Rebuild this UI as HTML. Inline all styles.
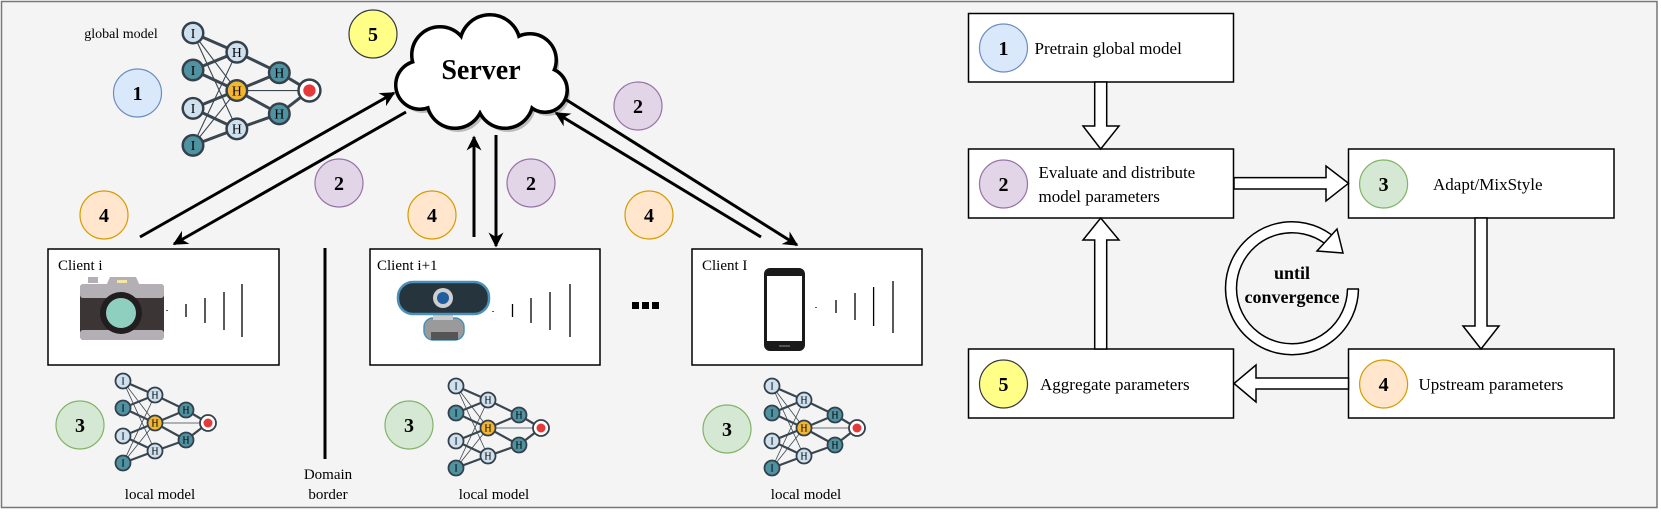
<!DOCTYPE html>
<html><head><meta charset="utf-8"><style>
html,body{margin:0;padding:0;background:#fff}
svg{display:block}
text{font-family:"Liberation Serif",serif;fill:#000}
.n{font-weight:bold;font-size:20px;text-anchor:middle}
.t{font-size:17px}
</style></head><body>
<svg width="1661" height="514" viewBox="0 0 1661 514" xmlns="http://www.w3.org/2000/svg">
<defs>
<marker id="ah" viewBox="0 0 10 10" refX="9" refY="5" markerWidth="5" markerHeight="5" orient="auto-start-reverse" markerUnits="strokeWidth">
<path d="M0,0 L10,5 L0,10 L3,5 z" fill="#000"/></marker>
<g id="net">
<g stroke="#3a4650" stroke-width="0.8">
<line x1="0" y1="0" x2="32" y2="42"/><line x1="0" y1="0" x2="32" y2="70"/>
<line x1="0" y1="82" x2="32" y2="42"/><line x1="0" y1="82" x2="32" y2="14"/>
<line x1="32" y1="42" x2="85" y2="42"/></g>
<g stroke="#3a4650" stroke-width="2.2">
<line x1="0" y1="0" x2="32" y2="14"/><line x1="0" y1="27" x2="32" y2="14"/><line x1="0" y1="27" x2="32" y2="42"/>
<line x1="0" y1="55" x2="32" y2="42"/><line x1="0" y1="55" x2="32" y2="70"/><line x1="0" y1="82" x2="32" y2="70"/>
<line x1="32" y1="14" x2="63" y2="29"/><line x1="32" y1="42" x2="63" y2="29"/><line x1="32" y1="42" x2="63" y2="59"/>
<line x1="32" y1="70" x2="63" y2="59"/><line x1="63" y1="29" x2="85" y2="42"/><line x1="63" y1="59" x2="85" y2="42"/></g>
<g stroke="#34404a" stroke-width="1.8">
<circle cx="0" cy="0" r="7.5" fill="#cfe1ee"/><circle cx="0" cy="27" r="7.5" fill="#4f93a3"/>
<circle cx="0" cy="55" r="7.5" fill="#cfe1ee"/><circle cx="0" cy="82" r="7.5" fill="#4f93a3"/>
<circle cx="32" cy="14" r="7.5" fill="#cfe1ee"/><circle cx="32" cy="42" r="7.5" fill="#f3b632"/>
<circle cx="32" cy="70" r="7.5" fill="#cfe1ee"/>
<circle cx="63" cy="29" r="7.5" fill="#4f93a3"/><circle cx="63" cy="59" r="7.5" fill="#4f93a3"/>
<circle cx="85" cy="42" r="8" fill="#fff"/></g>
<circle cx="85" cy="42" r="4.5" fill="#e53a3a"/>
<g font-family="Liberation Mono, monospace" font-size="10" text-anchor="middle" fill="#2a3540">
<text x="0" y="3.5">I</text><text x="0" y="30.5">I</text><text x="0" y="58.5">I</text><text x="0" y="85.5">I</text>
<text x="32" y="17.5">H</text><text x="32" y="45.5">H</text><text x="32" y="73.5">H</text>
<text x="63" y="32.5">H</text><text x="63" y="62.5">H</text></g>
</g>
</defs>

<rect x="1.5" y="1.5" width="1655.5" height="506" fill="#f4f4f4" stroke="#777" stroke-width="1.5"/>

<text x="121" y="38" font-size="14" text-anchor="middle">global model</text>
<circle cx="137.5" cy="93" r="24" fill="#dae8fc" stroke="#6c8ebf" stroke-width="1.2"/><text class="n" x="137.5" y="100">1</text>
<use href="#net" transform="translate(193,33) scale(1.37)"/>
<circle cx="373" cy="34" r="24" fill="#ffff88" stroke="#36393d" stroke-width="1.2"/><text class="n" x="373" y="41">5</text>

<g transform="translate(3,4)" fill="#bbb">
<circle cx="440" cy="55" r="28"/><circle cx="490" cy="45" r="30"/><circle cx="530" cy="60" r="26"/><circle cx="545" cy="90" r="22"/><circle cx="505" cy="100" r="28"/><circle cx="455" cy="100" r="28"/><circle cx="420" cy="85" r="24"/></g>
<g stroke="#000" stroke-width="4" fill="#fff">
<circle cx="440" cy="55" r="28"/><circle cx="490" cy="45" r="30"/><circle cx="530" cy="60" r="26"/><circle cx="545" cy="90" r="22"/><circle cx="505" cy="100" r="28"/><circle cx="455" cy="100" r="28"/><circle cx="420" cy="85" r="24"/></g>
<g fill="#fff">
<circle cx="440" cy="55" r="26.5"/><circle cx="490" cy="45" r="28.5"/><circle cx="530" cy="60" r="24.5"/><circle cx="545" cy="90" r="20.5"/><circle cx="505" cy="100" r="26.5"/><circle cx="455" cy="100" r="26.5"/><circle cx="420" cy="85" r="22.5"/><circle cx="480" cy="75" r="35"/></g>
<text x="481" y="79" font-size="28" font-weight="bold" text-anchor="middle">Server</text>

<g stroke="#000" stroke-width="3" marker-end="url(#ah)">
<line x1="140" y1="237" x2="394" y2="93"/>
<line x1="406" y1="112" x2="174" y2="244"/>
<line x1="474" y1="237" x2="474" y2="137"/>
<line x1="496" y1="135" x2="496" y2="246"/>
<line x1="565" y1="99" x2="797" y2="245"/>
<line x1="761" y1="237" x2="556" y2="113"/>
</g>
<circle cx="339" cy="183" r="24" fill="#e1d5e7" stroke="#9673a6" stroke-width="1.2"/><text class="n" x="339" y="190">2</text>
<circle cx="531" cy="183" r="24" fill="#e1d5e7" stroke="#9673a6" stroke-width="1.2"/><text class="n" x="531" y="190">2</text>
<circle cx="638" cy="106" r="24" fill="#e1d5e7" stroke="#9673a6" stroke-width="1.2"/><text class="n" x="638" y="113">2</text>
<circle cx="104" cy="215" r="24" fill="#ffe6cc" stroke="#d79b00" stroke-width="1.2"/><text class="n" x="104" y="222">4</text>
<circle cx="432" cy="215" r="24" fill="#ffe6cc" stroke="#d79b00" stroke-width="1.2"/><text class="n" x="432" y="222">4</text>
<circle cx="649" cy="215" r="24" fill="#ffe6cc" stroke="#d79b00" stroke-width="1.2"/><text class="n" x="649" y="222">4</text>

<g fill="#fff" stroke="#000" stroke-width="1.5">
<rect x="48" y="249" width="231" height="116"/>
<rect x="370" y="249" width="230" height="116"/>
<rect x="692" y="249" width="230" height="116"/>
</g>
<text x="58" y="270" font-size="15">Client i</text>
<text x="377" y="270" font-size="15">Client i+1</text>
<text x="702" y="270" font-size="15">Client I</text>

<rect x="88" y="277" width="10" height="6" fill="#b3afb5"/>
<path d="M106,286 L110,277 L136,277 L140,286 Z" fill="#b3afb5"/>
<rect x="80" y="284" width="84" height="56" rx="4" fill="#3b3536"/>
<rect x="80" y="284" width="84" height="14" rx="3" fill="#b3afb5"/>
<rect x="80" y="330" width="84" height="10" rx="3" fill="#b3afb5"/>
<rect x="117" y="280" width="10" height="3" fill="#f2e6a0"/>
<circle cx="121" cy="313" r="21" fill="#221d1e"/>
<circle cx="121" cy="313" r="15" fill="#8fcfbf"/>
<rect x="424" y="318" width="40" height="22" rx="9" fill="#9a9a9a" stroke="#4a90b8" stroke-width="1.5"/>
<rect x="431" y="332" width="27" height="8" fill="#555"/>
<rect x="433" y="311" width="20" height="9" fill="#ccc"/>
<rect x="398" y="282" width="91" height="32" rx="15" fill="#25343d" stroke="#4a90b8" stroke-width="2.5"/>
<circle cx="443" cy="298" r="10" fill="#cfcfcf"/><circle cx="443" cy="298" r="6" fill="#1f5fa0"/>
<rect x="764" y="268" width="41" height="83" rx="6" fill="#1a1a1a"/>
<rect x="767" y="276" width="35" height="65" fill="#fff"/>
<rect x="779" y="345" width="11" height="2" fill="#555"/>
<g stroke="#000" stroke-width="1.3">
<line x1="167" y1="310" x2="167" y2="311"/>
<line x1="186" y1="304" x2="186" y2="317"/><line x1="205" y1="298" x2="205" y2="323"/><line x1="224" y1="292" x2="224" y2="330"/><line x1="242" y1="284" x2="242" y2="337"/>
<line x1="493" y1="311" x2="493" y2="312"/>
<line x1="512.5" y1="304" x2="512.5" y2="317"/><line x1="531" y1="298" x2="531" y2="323"/><line x1="550" y1="292" x2="550" y2="330"/><line x1="570" y1="284" x2="570" y2="337"/>
<line x1="816" y1="307" x2="816" y2="308"/>
<line x1="836" y1="300" x2="836" y2="313"/><line x1="855" y1="293" x2="855" y2="320"/><line x1="873.6" y1="287" x2="873.6" y2="326"/><line x1="893" y1="281" x2="893" y2="333"/>
</g>
<g fill="#000"><rect x="632" y="302" width="7" height="7"/><rect x="642" y="302" width="7" height="7"/><rect x="652" y="302" width="7" height="7"/></g>

<line x1="325" y1="248" x2="325" y2="459" stroke="#000" stroke-width="3"/>
<text x="328" y="479" font-size="15" text-anchor="middle">Domain</text>
<text x="328" y="499" font-size="15" text-anchor="middle">border</text>

<circle cx="80" cy="425" r="24" fill="#d5e8d4" stroke="#82b366" stroke-width="1.2"/><text class="n" x="80" y="432">3</text>
<use href="#net" transform="translate(123,381)"/>
<text x="160" y="499" font-size="15" text-anchor="middle">local model</text>
<circle cx="409" cy="425" r="24" fill="#d5e8d4" stroke="#82b366" stroke-width="1.2"/><text class="n" x="409" y="432">3</text>
<use href="#net" transform="translate(456,386)"/>
<text x="494" y="499" font-size="15" text-anchor="middle">local model</text>
<circle cx="727" cy="429" r="24" fill="#d5e8d4" stroke="#82b366" stroke-width="1.2"/><text class="n" x="727" y="436">3</text>
<use href="#net" transform="translate(772,386)"/>
<text x="806" y="499" font-size="15" text-anchor="middle">local model</text>

<g fill="#fff" stroke="#000" stroke-width="1.5">
<rect x="968.5" y="13.5" width="265" height="68.5"/>
<rect x="968.5" y="149" width="265" height="69"/>
<rect x="1348.5" y="149" width="265.5" height="69"/>
<rect x="968.5" y="349" width="265" height="69"/>
<rect x="1348.5" y="349" width="265.5" height="69"/>
<path d="M1094.7,82 L1106.7,82 L1106.7,126 L1119,126 L1100.7,149 L1083,126 L1094.7,126 Z"/>
<path d="M1234,177.6 L1326,177.6 L1326,166 L1348.5,183.3 L1326,201 L1326,189 L1234,189 Z"/>
<path d="M1475,218 L1487,218 L1487,326 L1499,326 L1481,349 L1463,326 L1475,326 Z"/>
<path d="M1348.5,378 L1256,378 L1256,365 L1234,383.5 L1256,402 L1256,389 L1348.5,389 Z"/>
<path d="M1094.7,349 L1106.7,349 L1106.7,240 L1119,240 L1100.7,218 L1083,240 L1094.7,240 Z"/>
</g>
<circle cx="1003.5" cy="48" r="24" fill="#dae8fc" stroke="#6c8ebf" stroke-width="1.2"/><text class="n" x="1003.5" y="55">1</text>
<text class="t" x="1034.5" y="54">Pretrain global model</text>
<circle cx="1003.5" cy="184" r="24" fill="#e1d5e7" stroke="#9673a6" stroke-width="1.2"/><text class="n" x="1003.5" y="191">2</text>
<text class="t" x="1038.5" y="178">Evaluate and distribute</text>
<text class="t" x="1038.5" y="202">model parameters</text>
<circle cx="1383.6" cy="184" r="24" fill="#d5e8d4" stroke="#82b366" stroke-width="1.2"/><text class="n" x="1383.6" y="191">3</text>
<text class="t" x="1433" y="190">Adapt/MixStyle</text>
<circle cx="1003.5" cy="384" r="24" fill="#ffff88" stroke="#36393d" stroke-width="1.2"/><text class="n" x="1003.5" y="391">5</text>
<text class="t" x="1040" y="390">Aggregate parameters</text>
<circle cx="1383.6" cy="384" r="24" fill="#ffe6cc" stroke="#d79b00" stroke-width="1.2"/><text class="n" x="1383.6" y="391">4</text>
<text class="t" x="1418.5" y="390">Upstream parameters</text>

<path d="M1353,289 A61,61 0 1 1 1328,239" fill="none" stroke="#000" stroke-width="12.5"/>
<path d="M1353,289 A61,61 0 1 1 1328,239" fill="none" stroke="#fff" stroke-width="9.5"/>
<line x1="1347" y1="289" x2="1359" y2="289" stroke="#000" stroke-width="1.5"/>
<path d="M1317,251 L1337,229 L1343,253 Z" fill="#fff" stroke="#000" stroke-width="1.5"/>
<text x="1292" y="279" font-size="18" font-weight="bold" text-anchor="middle">until</text>
<text x="1292" y="303" font-size="18" font-weight="bold" text-anchor="middle">convergence</text>
</svg>
</body></html>
